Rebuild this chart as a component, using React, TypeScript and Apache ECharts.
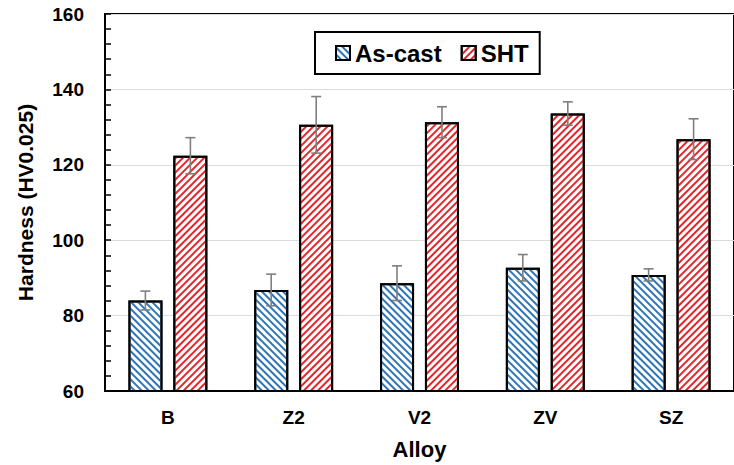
import React, { useEffect, useRef } from "react";
import * as echarts from "echarts";

const categories = ["B", "Z2", "V2", "ZV", "SZ"];
const asCast = [84, 86.8, 88.6, 92.7, 90.8];
const asCastErr = [2.5, 4.2, 4.6, 3.5, 1.6];
const sht = [122.4, 130.6, 131.3, 133.6, 126.8];
const shtErr = [4.8, 7.5, 4.1, 3.1, 5.4];
const yTicks = { min: 60, max: 160, interval: 20 };

const FONT = "'Liberation Sans', Arial, sans-serif";
const BAR_W = 34;
const OFFSET = 22.5;

function errorSeries(name: string, vals: number[], errs: number[], dx: number) {
  return {
    type: "custom",
    name,
    z: 5,
    silent: true,
    data: vals.map((v, i) => [i, v, errs[i]]),
    encode: { x: 0, y: 1 },
    renderItem: (params: any, api: any) => {
      const i = api.value(0);
      const v = api.value(1);
      const e = api.value(2);
      const top = api.coord([i, v + e]);
      const bot = api.coord([i, v - e]);
      const x = top[0] + dx;
      const style = { stroke: "#7f7f7f", lineWidth: 1.6 };
      return {
        type: "group",
        children: [
          { type: "line", shape: { x1: x, y1: top[1], x2: x, y2: bot[1] }, style },
          { type: "line", shape: { x1: x - 5, y1: top[1], x2: x + 5, y2: top[1] }, style },
          { type: "line", shape: { x1: x - 5, y1: bot[1], x2: x + 5, y2: bot[1] }, style },
        ],
      };
    },
  };
}

export default function App() {
  const ref = useRef<HTMLDivElement>(null);
  useEffect(() => {
    if (!ref.current) return;
    const chart = echarts.init(ref.current, undefined, { renderer: "svg" });
    chart.setOption({
      animation: false,
      aria: { enabled: true, decal: { show: true } },
      grid: {
        left: 105,
        top: 14,
        width: 639,
        bottom: 73,
        show: true,
        borderColor: "#000",
        borderWidth: 2,
      },
      legend: {
        data: ["As-cast", "SHT"],
        left: 315,
        top: 32,
        padding: [9, 11, 9, 20],
        itemWidth: 14,
        itemHeight: 14,
        itemGap: 19,
        borderColor: "#000",
        borderWidth: 2,
        backgroundColor: "#fff",
        icon: "rect",
        textStyle: { fontFamily: FONT, fontSize: 24, fontWeight: "bold", color: "#000", padding: [0, 0, 0, 0] },
      },
      xAxis: {
        type: "category",
        data: categories,
        name: "Alloy",
        nameLocation: "middle",
        nameGap: 47,
        nameTextStyle: { fontFamily: FONT, fontSize: 22, fontWeight: "bold", color: "#000" },
        axisLine: { lineStyle: { color: "#000", width: 2 } },
        axisTick: { show: false },
        axisLabel: { fontFamily: FONT, fontSize: 19, fontWeight: "bold", color: "#000", margin: 17 },
      },
      yAxis: {
        type: "value",
        min: yTicks.min,
        max: yTicks.max,
        interval: yTicks.interval,
        name: "Hardness (HV0.025)",
        nameLocation: "middle",
        nameGap: 69,
        nameTextStyle: { fontFamily: FONT, fontSize: 21, fontWeight: "bold", color: "#000" },
        axisLine: { show: true, lineStyle: { color: "#000", width: 2 } },
        axisTick: { show: true, inside: true, length: 6, lineStyle: { color: "#000", width: 1.5 } },
        minorTick: { show: true, splitNumber: 5, length: 6, lineStyle: { color: "#000", width: 1.5 } },
        axisLabel: { fontFamily: FONT, fontSize: 19, fontWeight: "bold", color: "#000", margin: 21 },
        splitLine: { lineStyle: { color: "#dcdcdc", width: 1 } },
      },
      series: [
        {
          type: "bar",
          name: "As-cast",
          data: asCast,
          barWidth: BAR_W,
          barGap: "32%",
          itemStyle: {
            color: "#ffffff",
            borderColor: "#000",
            borderWidth: 2,
            decal: {
              symbol: "rect",
              symbolSize: 1,
              color: "#2e75b6",
              backgroundColor: "#ffffff",
              dashArrayX: [1, 0],
              dashArrayY: [1.6, 2.2],
              rotation: Math.PI / 4,
            },
          },
        },
        {
          type: "bar",
          name: "SHT",
          data: sht,
          barWidth: BAR_W,
          barGap: "32%",
          itemStyle: {
            color: "#ffffff",
            borderColor: "#000",
            borderWidth: 2,
            decal: {
              symbol: "rect",
              symbolSize: 1,
              color: "#e3262b",
              backgroundColor: "#ffffff",
              dashArrayX: [1, 0],
              dashArrayY: [1.6, 2.2],
              rotation: -Math.PI / 4,
            },
          },
        },
        errorSeries("errA", asCast, asCastErr, -OFFSET),
        errorSeries("errS", sht, shtErr, OFFSET),
      ],
    });
    return () => chart.dispose();
  }, []);
  return <div ref={ref} style={{ width: 734, height: 465, position: "absolute", left: 0, top: 0 }} />;
}
